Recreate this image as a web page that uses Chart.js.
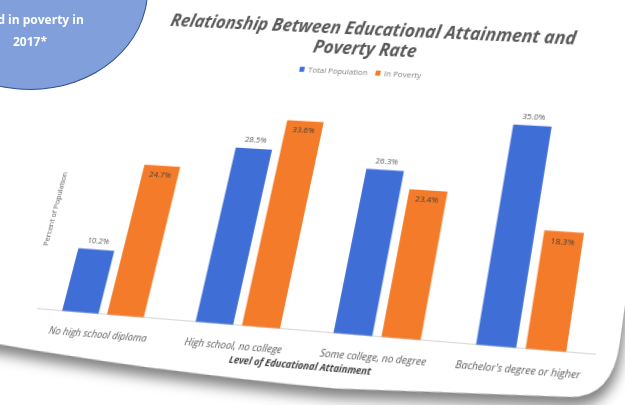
<!DOCTYPE html>
<html>
<head>
<meta charset="utf-8">
<script src="https://cdn.jsdelivr.net/npm/chart.js@4"></script>
<style>
  html, body {
    margin: 0;
    padding: 0;
    width: 625px;
    height: 405px;
    overflow: hidden;
    background: #fff;
  }
  /* the chart is printed on a card seen at an angle; the matrix is set from script */
  #card {
    position: absolute;
    left: 0;
    top: 0;
    width: 683px;
    height: 400px;
    transform-origin: 0 0;
    filter: drop-shadow(3px 8px 6px rgba(0, 0, 0, 0.5));
  }
  #sheet {
    position: absolute;
    left: 0;
    top: 0;
    width: 683px;
    height: 400px;
    background: #fff;
    clip-path: path("M0,0 H683 V330 Q683,376 645,378 L430,388 Q230,388 0,368 Z");
  }
  #sheet canvas {
    position: absolute;
    left: 0;
    top: 0;
  }
  #bubble {
    position: absolute;
    left: -88px;
    top: -110px;
    width: 236px;
    height: 200px;
    border-radius: 50%;
    background: #819fdb;
    border: 1.5px solid #2f4f8f;
    box-sizing: border-box;
  }
  #bubble div {
    position: absolute;
    left: 0;
    top: 118px;
    width: 100%;
    text-align: center;
    color: #fff;
    font: bold 12px "Open Sans", sans-serif;
    line-height: 22px;
  }
</style>
</head>
<body>
<div id="card"><div id="sheet"><canvas id="chart" width="695" height="400"></canvas></div></div>
<div id="bubble"><div>lived in poverty in<br>2017*</div></div>
<script>
const categories = [
  "No high school diploma",
  "High school, no college",
  "Some college, no degree",
  "Bachelor's degree or higher",
];
const totalPopulation = [10.2, 28.5, 26.3, 35.0];
const inPoverty = [24.7, 33.6, 23.4, 18.3];

const blue = "#3f6fd6";
const orange = "#f47b29";

// where the corners of a 672x384 patch of the card land on the page
const cardQuad = [
  [21.4, -38.6],
  [657.8, -13.7],
  [598.5, 406.8],
  [-90.7, 346.4],
];

function rectToQuad(w, h, quad) {
  const src = [[0, 0], [w, 0], [w, h], [0, h]];
  const A = [];
  const b = [];
  src.forEach(([x, y], i) => {
    const [X, Y] = quad[i];
    A.push([x, y, 1, 0, 0, 0, -x * X, -y * X]);
    b.push(X);
    A.push([0, 0, 0, x, y, 1, -x * Y, -y * Y]);
    b.push(Y);
  });
  for (let i = 0; i < 8; i++) {
    let p = i;
    for (let k = i + 1; k < 8; k++) {
      if (Math.abs(A[k][i]) > Math.abs(A[p][i])) p = k;
    }
    [A[i], A[p]] = [A[p], A[i]];
    [b[i], b[p]] = [b[p], b[i]];
    for (let k = 0; k < 8; k++) {
      if (k === i) continue;
      const f = A[k][i] / A[i][i];
      for (let j = i; j < 8; j++) A[k][j] -= f * A[i][j];
      b[k] -= f * b[i];
    }
  }
  const m = b.map((v, i) => v / A[i][i]);
  return `matrix3d(${m[0]},${m[3]},0,${m[6]},${m[1]},${m[4]},0,${m[7]},0,0,1,0,${m[2]},${m[5]},0,1)`;
}

document.getElementById("card").style.transform = rectToQuad(672, 384, cardQuad);

// value labels: above the blue bars, just inside the top of the orange ones
const barLabels = {
  id: "barLabels",
  afterDatasetsDraw(chart) {
    const ctx = chart.ctx;
    ctx.save();
    ctx.font = '8px "Open Sans", sans-serif';
    ctx.textAlign = "center";
    chart.data.datasets.forEach((ds, i) => {
      chart.getDatasetMeta(i).data.forEach((bar, j) => {
        const text = ds.data[j].toFixed(1) + "%";
        if (i === 0) {
          ctx.fillStyle = "#595959";
          ctx.textBaseline = "bottom";
          ctx.fillText(text, bar.x, bar.y - 4);
        } else {
          ctx.fillStyle = "#404040";
          ctx.textBaseline = "top";
          ctx.fillText(text, bar.x, bar.y + 5);
        }
      });
    });
    ctx.restore();
  },
};

// y axis title sits a little below the middle of the plot
const yTitle = {
  id: "yTitle",
  afterDraw(chart) {
    const area = chart.chartArea;
    const ctx = chart.ctx;
    ctx.save();
    ctx.translate(area.left - 8, area.top + 0.59 * (area.bottom - area.top));
    ctx.rotate(-Math.PI / 2);
    ctx.font = '7px "Open Sans", sans-serif';
    ctx.fillStyle = "#595959";
    ctx.textAlign = "center";
    ctx.textBaseline = "middle";
    ctx.fillText("Percent of Population", 0, 0);
    ctx.restore();
  },
};

new Chart(document.getElementById("chart").getContext("2d"), {
  type: "bar",
  data: {
    labels: categories,
    datasets: [
      {
        label: "Total Population",
        data: totalPopulation,
        backgroundColor: blue,
      },
      {
        label: "In Poverty",
        data: inPoverty,
        backgroundColor: orange,
      },
    ],
  },
  options: {
    responsive: false,
    animation: false,
    categoryPercentage: 0.68,
    barPercentage: 0.81,
    layout: {
      padding: { left: 120, right: 33, top: 0, bottom: 23.6 },
    },
    plugins: {
      title: {
        display: true,
        text: ["Relationship Between Educational Attainment and", "Poverty Rate"],
        color: "#595959",
        font: { family: "Open Sans", size: 17.5, weight: "bold", style: "italic", lineHeight: 1.15 },
        padding: { top: 46, bottom: 0 },
      },
      legend: {
        display: true,
        position: "top",
        labels: {
          boxWidth: 5,
          boxHeight: 5,
          padding: 8,
          color: "#7f7f7f",
          font: { family: "Open Sans", size: 8 },
        },
      },
      tooltip: { enabled: false },
    },
    scales: {
      x: {
        grid: { display: false, drawTicks: false },
        border: { display: true, color: "#d9d9d9" },
        ticks: {
          color: "#595959",
          padding: 13,
          maxRotation: 0,
          autoSkip: false,
          font: { family: "Open Sans", size: 9.5, style: "italic" },
        },
        title: {
          display: true,
          text: "Level of Educational Attainment",
          color: "#404040",
          font: { family: "Open Sans", size: 9, weight: "bold", style: "italic" },
          padding: { top: -12.6, bottom: 0 },
        },
      },
      y: {
        min: 0,
        max: 40,
        grid: { display: false, drawTicks: false },
        border: { display: false },
        ticks: { display: false },
      },
    },
  },
  plugins: [barLabels, yTitle],
});
</script>
</body>
</html>
